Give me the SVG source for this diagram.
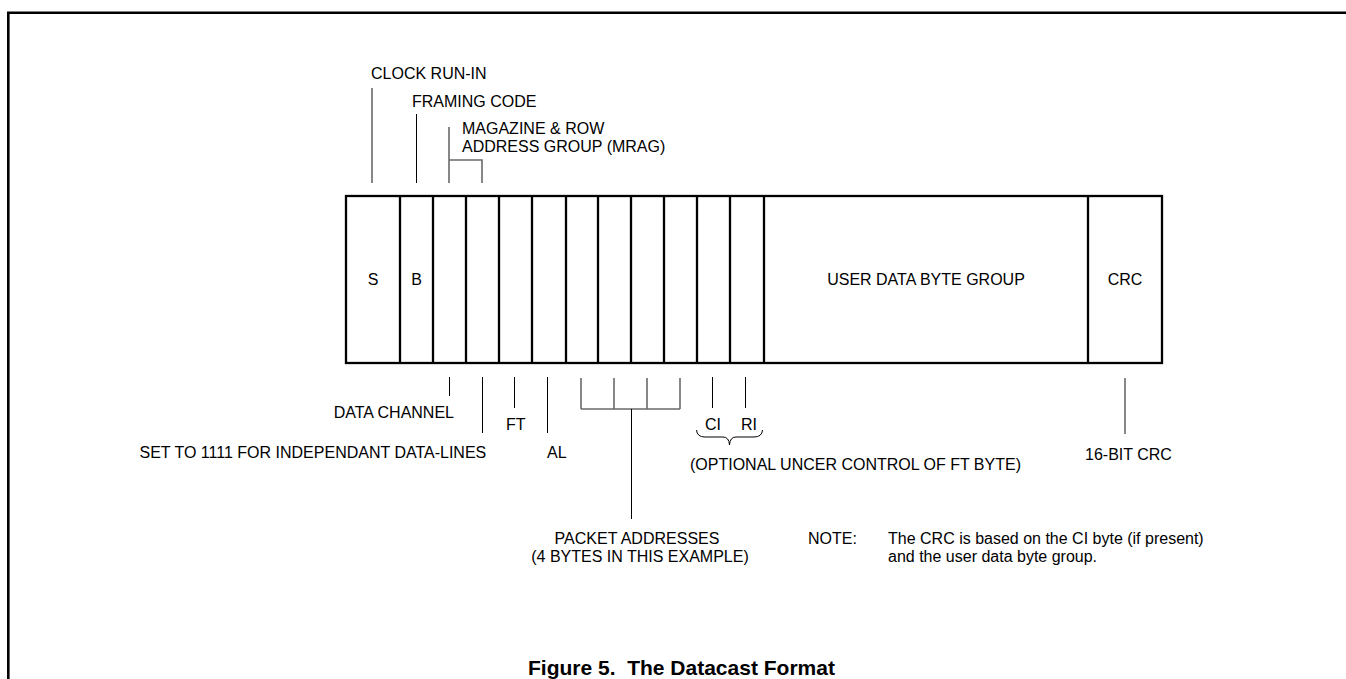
<svg xmlns="http://www.w3.org/2000/svg" width="1346" height="679" viewBox="0 0 1346 679">
<style>
text{font-family:"Liberation Sans",Arial,sans-serif;font-size:16px;fill:#000}
.c{text-anchor:middle}
.cap{font-size:21px;font-weight:bold}
.cell{fill:#fff;stroke:#000;stroke-width:2.3}
.div{stroke:#000;stroke-width:2.3}
.t{stroke:#000;stroke-width:1;fill:none}
.g{stroke:#6a6a6a;stroke-width:1.6;fill:none}
</style>
<rect width="1346" height="679" fill="#fff"/>
<path d="M8.3,679 L8.3,12.7 L1346,12.7" fill="none" stroke="#000" stroke-width="2.6"/>

<g id="packet">
<rect class="cell" x="346" y="196" width="816" height="167"/>
<g id="dividers">
<line class="div" x1="400" y1="196" x2="400" y2="363"/>
<line class="div" x1="433" y1="196" x2="433" y2="363"/>
<line class="div" x1="466" y1="196" x2="466" y2="363"/>
<line class="div" x1="499" y1="196" x2="499" y2="363"/>
<line class="div" x1="532" y1="196" x2="532" y2="363"/>
<line class="div" x1="566" y1="196" x2="566" y2="363"/>
<line class="div" x1="598" y1="196" x2="598" y2="363"/>
<line class="div" x1="631" y1="196" x2="631" y2="363"/>
<line class="div" x1="664" y1="196" x2="664" y2="363"/>
<line class="div" x1="697" y1="196" x2="697" y2="363"/>
<line class="div" x1="730" y1="196" x2="730" y2="363"/>
<line class="div" x1="764" y1="196" x2="764" y2="363"/>
<line class="div" x1="1088" y1="196" x2="1088" y2="363" stroke-width="3"/>
</g>
<g id="cell-s"><text class="c" x="373" y="285">S</text></g>
<g id="cell-b"><text class="c" x="416.5" y="285">B</text></g>
<g id="cell-user"><text class="c" x="926" y="285">USER DATA BYTE GROUP</text></g>
<g id="cell-crc"><text class="c" x="1125" y="285">CRC</text></g>
</g>

<g id="connectors">
<line class="g" x1="372" y1="88" x2="372" y2="183"/>
<line class="t" x1="416.5" y1="114" x2="416.5" y2="183"/>
<path class="g" d="M449,127 V183 M449,160 H482 V183"/>
<line class="t" x1="449.5" y1="377" x2="449.5" y2="396"/>
<line class="t" x1="482.5" y1="377" x2="482.5" y2="433"/>
<line class="t" x1="514.5" y1="377" x2="514.5" y2="408"/>
<line class="t" x1="547.5" y1="377" x2="547.5" y2="433"/>
<path class="g" d="M581,378 V409 M614,378 V409 M647,378 V409 M680,378 V409 M581,409 H680"/>
<line class="t" x1="631.5" y1="409" x2="631.5" y2="519"/>
<line class="t" x1="712.5" y1="377" x2="712.5" y2="408"/>
<line class="t" x1="745.5" y1="377" x2="745.5" y2="408"/>
<path class="t" d="M696.5,430 Q697,437 705,437 L723,437 Q729,437 729.5,445 Q730,437 736,437 L754,437 Q762,437 762.5,430"/>
<line class="g" x1="1125" y1="378" x2="1125" y2="434"/>
</g>

<g id="label-clock"><text x="371" y="79">CLOCK RUN-IN</text></g>
<g id="label-framing"><text x="412" y="107">FRAMING CODE</text></g>
<g id="label-mrag"><text x="462" y="134">MAGAZINE &amp; ROW</text><text x="462" y="152">ADDRESS GROUP (MRAG)</text></g>
<g id="label-dc"><text x="454" y="418" text-anchor="end">DATA CHANNEL</text></g>
<g id="label-ft"><text x="506" y="430">FT</text></g>
<g id="label-set"><text x="139.5" y="458">SET TO 1111 FOR INDEPENDANT DATA-LINES</text></g>
<g id="label-al"><text x="547" y="458">AL</text></g>
<g id="label-ci"><text x="705" y="430">CI</text></g>
<g id="label-ri"><text x="741" y="430">RI</text></g>
<g id="label-optional"><text x="690" y="470">(OPTIONAL UNCER CONTROL OF FT BYTE)</text></g>
<g id="label-crc16"><text x="1085" y="460">16-BIT CRC</text></g>
<g id="label-pa"><text class="c" x="637" y="544">PACKET ADDRESSES</text><text class="c" x="640" y="562">(4 BYTES IN THIS EXAMPLE)</text></g>
<g id="note"><text x="808" y="544">NOTE:</text><text x="888" y="544">The CRC is based on the CI byte (if present)</text><text x="888" y="562">and the user data byte group.</text></g>
<g id="caption"><text class="cap" x="528" y="675" xml:space="preserve">Figure 5.  The Datacast Format</text></g>
</svg>
